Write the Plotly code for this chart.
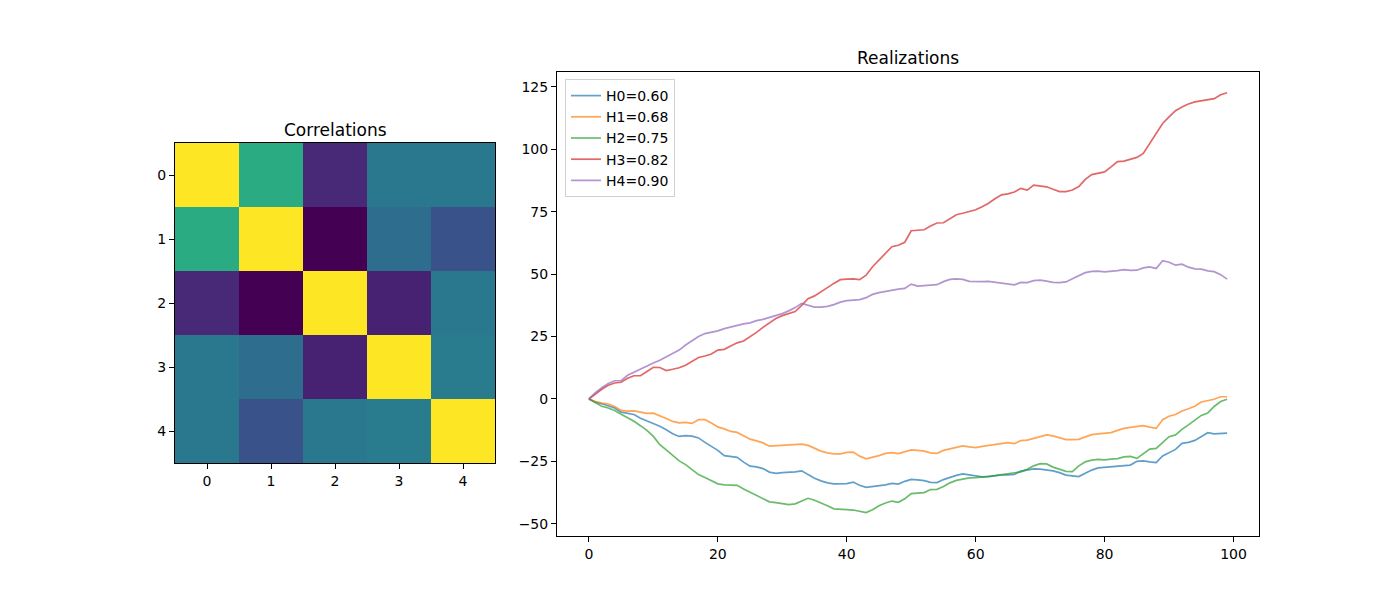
import plotly.graph_objects as go

# ---------------- data ----------------
corr_labels = [0, 1, 2, 3, 4]
corr = [
    [1.00, 0.42, -0.33, 0.10, 0.10],
    [0.42, 1.00, -0.50, 0.03, -0.12],
    [-0.33, -0.50, 1.00, -0.36, 0.10],
    [0.10, 0.03, -0.36, 1.00, 0.13],
    [0.10, -0.12, 0.10, 0.13, 1.00],
]

steps = list(range(100))
series_names = ["H0=0.60", "H1=0.68", "H2=0.75", "H3=0.82", "H4=0.90"]

h0 = [0, -1.2, -1.9, -2.6, -3.6, -5.3, -5.9, -6.2, -7.7, -8.8,
      -9.6, -10.9, -12.3, -13.9, -15.0, -14.7, -14.9, -15.6, -17.4, -18.9,
      -20.6, -22.7, -23.2, -23.4, -25.3, -26.9, -27.2, -27.9, -29.3, -29.8,
      -29.5, -29.5, -29.2, -28.8, -30.2, -31.8, -32.8, -33.6, -34.0, -34.1,
      -33.9, -33.3, -34.6, -35.4, -35.1, -34.8, -34.4, -33.8, -34.1, -33.0,
      -32.2, -32.4, -32.7, -33.4, -33.5, -32.3, -31.4, -30.6, -30.0, -30.5,
      -30.8, -31.2, -31.1, -30.7, -30.4, -30.4, -30.2, -28.9, -28.5, -28.0,
      -28.1, -28.3, -28.8, -29.5, -30.5, -30.8, -31.1, -29.8, -28.5, -27.6,
      -27.4, -27.4, -27.2, -26.9, -26.5, -25.0, -24.8, -25.2, -25.5, -22.8,
      -21.6, -20.2, -17.8, -17.4, -16.6, -15.0, -13.5, -14.0, -13.8, -13.7]

h1 = [0, -1.0, -1.6, -2.0, -3.0, -4.6, -4.9, -4.8, -5.3, -5.8,
      -5.7, -6.6, -7.8, -9.0, -9.6, -9.4, -9.8, -8.3, -8.3, -9.6,
      -11.2, -12.0, -13.0, -13.4, -14.6, -16.1, -16.8, -17.6, -18.9, -18.7,
      -18.4, -18.2, -18.2, -18.1, -18.6, -19.8, -20.9, -21.6, -22.0, -22.0,
      -21.4, -21.3, -22.9, -24.0, -23.5, -22.7, -21.8, -21.5, -21.9, -21.3,
      -20.4, -20.6, -20.9, -21.6, -21.8, -20.6, -19.9, -19.2, -18.8, -19.2,
      -19.5, -19.0, -18.6, -18.2, -17.6, -17.5, -17.9, -16.7, -16.5, -15.8,
      -14.9, -14.4, -14.8, -15.4, -16.3, -16.3, -16.2, -15.2, -14.3, -14.0,
      -13.9, -13.5, -12.6, -11.8, -11.4, -11.0, -10.7, -11.3, -11.8, -8.3,
      -6.9, -6.2, -4.8, -3.9, -2.9, -1.2, -0.6, -0.1, 0.9, 0.9]

h2 = [0, -1.6, -2.9, -3.6, -4.6, -6.1, -7.5, -8.9, -10.7, -12.6,
      -15.0, -18.3, -20.4, -22.6, -24.8, -26.3, -28.2, -30.3, -31.5, -32.8,
      -34.0, -34.4, -34.4, -34.6, -36.1, -37.4, -38.6, -39.9, -41.2, -41.5,
      -41.8, -42.3, -42.0, -40.9, -39.8, -40.6, -41.6, -42.8, -44.0, -44.3,
      -44.3, -44.5, -45.0, -45.5, -44.4, -42.8, -41.7, -40.9, -41.4, -40.0,
      -37.9, -37.7, -37.5, -36.3, -36.2, -35.1, -33.6, -32.6, -32.0, -31.6,
      -31.5, -31.4, -31.0, -30.7, -30.3, -30.1, -29.8, -29.2, -28.2, -26.8,
      -25.9, -26.0, -27.3, -28.3, -29.0, -29.1, -26.8, -25.2, -24.5, -24.2,
      -24.4, -24.1, -23.9, -23.2, -23.0, -23.8, -21.8, -20.1, -19.8, -17.3,
      -15.1, -14.4, -12.2, -10.4, -8.6, -6.6, -5.6, -3.0, -1.0, -0.1]

h3 = [0, 2.0, 3.9, 5.5, 6.4, 6.7, 8.3, 9.3, 9.3, 11.0,
      12.7, 12.6, 11.4, 11.9, 12.5, 13.5, 15.1, 16.6, 17.2, 18.0,
      19.6, 19.9, 21.2, 22.5, 23.2, 24.8, 26.7, 28.7, 30.6, 32.2,
      33.4, 34.2, 35.0, 37.5, 40.2, 41.3, 43.1, 44.6, 46.3, 47.8,
      48.0, 48.1, 47.8, 49.6, 53.0, 55.8, 58.5, 61.0, 61.6, 62.8,
      67.4, 67.7, 67.8, 69.3, 70.5, 70.6, 72.2, 73.8, 74.4, 75.0,
      75.8, 77.0, 78.4, 80.2, 81.8, 82.2, 82.9, 84.4, 83.7, 85.7,
      85.4, 85.0, 84.0, 83.1, 83.1, 83.7, 85.1, 88.0, 89.9, 90.6,
      91.0, 93.0, 95.1, 95.3, 96.0, 96.8, 98.4, 102.4, 106.6, 110.4,
      113.0, 115.5, 117.0, 118.2, 119.0, 119.5, 119.8, 120.3, 121.9, 122.7]

h4 = [0, 2.5, 4.5, 6.2, 7.3, 7.3, 9.5, 10.8, 12.0, 13.2,
      14.4, 15.5, 16.9, 18.2, 19.6, 21.6, 23.2, 25.0, 26.2, 26.7,
      27.3, 28.2, 28.8, 29.7, 30.1, 30.5, 31.4, 31.9, 32.6, 33.4,
      34.2, 35.3, 36.6, 38.3, 37.6, 36.8, 36.8, 37.1, 37.8, 38.8,
      39.4, 39.5, 39.8, 40.6, 41.9, 42.6, 43.1, 43.7, 44.0, 44.3,
      46.0, 45.2, 45.3, 45.5, 45.8, 47.0, 47.9, 48.1, 47.9, 47.1,
      46.9, 47.0, 47.1, 46.8, 46.4, 46.1, 45.7, 46.7, 46.6, 47.4,
      47.6, 47.2, 46.7, 46.6, 46.9, 48.2, 49.5, 50.6, 51.1, 51.2,
      50.9, 51.0, 51.4, 51.8, 51.5, 51.6, 52.5, 52.9, 52.3, 55.4,
      54.8, 53.6, 54.0, 52.8, 52.1, 52.0, 51.3, 51.0, 49.8, 48.0]

series_values = [h0, h1, h2, h3, h4]
colors = ["#1f77b4", "#ff7f0e", "#2ca02c", "#d62728", "#9467bd"]

x_ticks = [0, 20, 40, 60, 80, 100]
y_ticks = [-50, -25, 0, 25, 50, 75, 100, 125]

# ---------------- figure ----------------
W, H = 1400, 600
FONT = "DejaVu Sans"

fig = go.Figure()

fig.add_trace(go.Heatmap(
    z=corr, x=corr_labels, y=corr_labels,
    colorscale="Viridis", showscale=False,
    xaxis="x", yaxis="y", hoverinfo="skip",
))

for name, vals, col in zip(series_names, series_values, colors):
    fig.add_trace(go.Scatter(
        x=steps, y=vals, mode="lines", name=name,
        line=dict(color=col, width=1.7), opacity=0.7,
        xaxis="x2", yaxis="y2",
    ))

axis_common = dict(
    showline=True, linecolor="black", linewidth=1, mirror=True,
    showgrid=False, zeroline=False, ticks="outside", ticklen=5,
    tickcolor="black", tickfont=dict(family=FONT, size=14, color="black"),
)

fig.update_layout(
    width=W, height=H,
    margin=dict(l=0, r=0, t=0, b=0),
    paper_bgcolor="white", plot_bgcolor="white",
    font=dict(family=FONT, size=14, color="black"),
    xaxis=dict(domain=[175 / W, 495 / W], anchor="y",
               range=[-0.5, 4.5], tickvals=corr_labels, **axis_common),
    yaxis=dict(domain=[1 - 463 / H, 1 - 143 / H], anchor="x",
               range=[4.5, -0.5], tickvals=corr_labels, **axis_common),
    xaxis2=dict(domain=[557 / W, 1259 / W], anchor="y2",
                range=[-4.95, 103.95], tickvals=x_ticks, **axis_common),
    yaxis2=dict(domain=[1 - 536 / H, 1 - 72 / H], anchor="x2",
                range=[-54.9, 131.0], tickvals=y_ticks, **axis_common),
    showlegend=True,
    legend=dict(
        x=565 / W, y=1 - 79 / H, xanchor="left", yanchor="top",
        bgcolor="rgba(255,255,255,0.8)", bordercolor="#d0d0d0", borderwidth=1,
        font=dict(family=FONT, size=14, color="black"),
        itemwidth=30, tracegroupgap=0,
    ),
    annotations=[
        dict(text="Correlations", x=335 / W, y=1 - 130 / H, xref="paper", yref="paper",
             showarrow=False, xanchor="center", yanchor="middle",
             font=dict(family=FONT, size=17, color="black")),
        dict(text="Realizations", x=908 / W, y=1 - 58 / H, xref="paper", yref="paper",
             showarrow=False, xanchor="center", yanchor="middle",
             font=dict(family=FONT, size=17, color="black")),
    ],
)

fig.write_html("out.html", config={"displayModeBar": False},
               post_script="document.body.style.margin='0px';")
